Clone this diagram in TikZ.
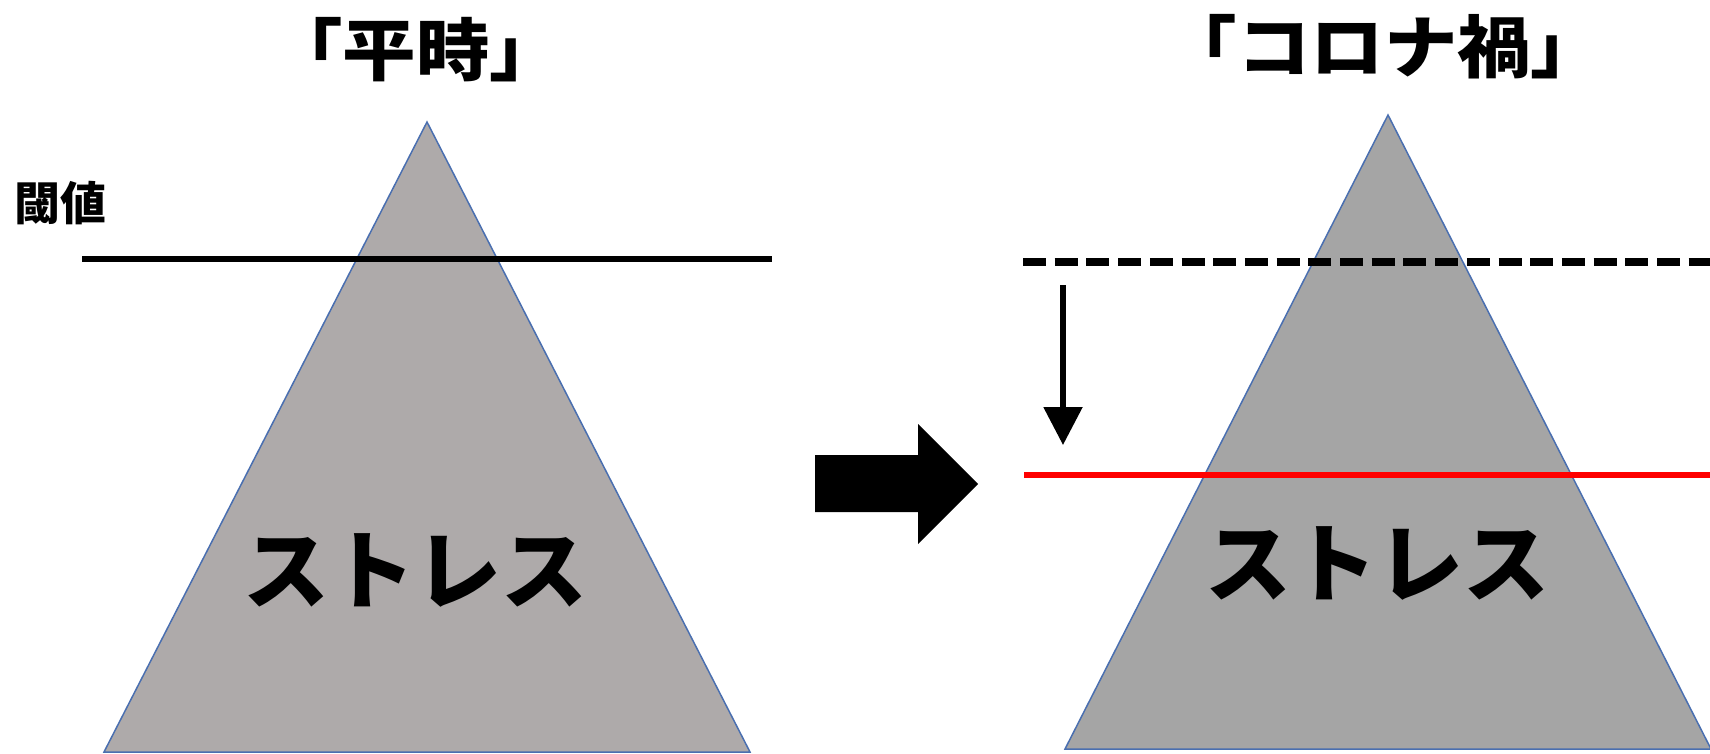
\documentclass[tikz,border=0pt]{standalone}
\usepackage{fontspec}
\newfontfamily\jp{Noto Sans CJK JP}
\usetikzlibrary{arrows.meta}
\definecolor{outl}{HTML}{4A6FB0}
\definecolor{gleft}{HTML}{AEAAAA}
\definecolor{gright}{HTML}{A5A5A5}
\tikzset{
  tri/.style={draw=outl, line width=1.5pt, line join=miter},
  jptext/.style={inner sep=0pt, font=\jp\bfseries},
  titletext/.style={inner sep=0pt, xscale=1.08, font=\jp\bfseries\fontsize{68}{76}\selectfont},
}
\begin{document}
\begin{tikzpicture}[x=1pt,y=-1pt]
\useasboundingbox (0,0) rectangle (1710,754);
% left triangle
\coordinate (LA) at (427,122);
\coordinate (LB) at (104,752);
\coordinate (LC) at (750,752);
\draw[tri, fill=gleft] (LA) -- (LB) -- (LC) -- cycle;
% right triangle
\coordinate (RA) at (1388,115);
\coordinate (RB) at (1065,749);
\coordinate (RC) at (1711,749);
\draw[tri, fill=gright] (RA) -- (RB) -- (RC) -- cycle;
% threshold line left
\coordinate (t1) at (82,259);
\coordinate (t2) at (772,259);
\draw[line width=6.5pt] (t1) -- (t2);
% dashed line right
\coordinate (d1) at (1023,262);
\coordinate (d2) at (1712,262);
\draw[line width=7.5pt, dash pattern=on 23pt off 8.7pt] (d1) -- (d2);
% red line
\coordinate (r1) at (1024,475);
\coordinate (r2) at (1710,475);
\draw[line width=6.5pt, red] (r1) -- (r2);
% small arrow
\coordinate (a1) at (1063,285);
\coordinate (a2) at (1063,445);
\draw[line width=5.5pt, -{Triangle[length=38pt,width=38pt]}] (a1) -- (a2);
% big arrow
\fill[black] (815,455) -- (918,455) -- (918,424) -- (978,484) -- (918,544) -- (918,512) -- (815,512) -- cycle;
% texts
\node[titletext] (title1) at (416,50) {「平時」};
\node[titletext] (title2) at (1384,47) {「コロナ禍」};
\node[jptext, font=\jp\bfseries\fontsize{46}{52}\selectfont] (thr) at (60,203) {閾値};
\node[jptext, font=\jp\bfseries\fontsize{86}{96}\selectfont] (s1) at (415,570) {ストレス};
\node[jptext, font=\jp\bfseries\fontsize{86}{96}\selectfont] (s2) at (1377,563) {ストレス};
\end{tikzpicture}
\end{document}
